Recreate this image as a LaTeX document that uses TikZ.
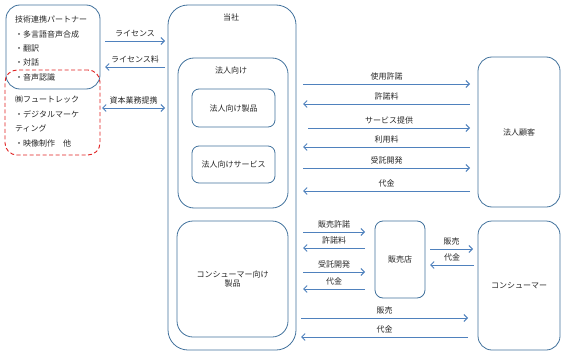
\documentclass[tikz,border=0pt]{standalone}
\usepackage{fontspec}
\setmainfont{Noto Sans CJK JP}
\usetikzlibrary{arrows.meta}
\definecolor{boxc}{HTML}{41719C}
\definecolor{arrc}{HTML}{4F81BD}
\definecolor{redc}{HTML}{E02020}
\definecolor{txt}{HTML}{262626}
\tikzset{
  box/.style={draw=boxc, line width=0.8pt, inner sep=0pt},
  redbox/.style={draw=redc, line width=0.9pt, dashed, dash pattern=on 4pt off 2.5pt, inner sep=0pt},
  lbl/.style={font=\fontsize{8}{9.5}\selectfont, text=txt, inner sep=0pt},
  ltxt/.style={lbl, anchor=west},
  arr/.style={draw=arrc, line width=0.9pt, -{Straight Barb[length=3.5pt,width=7pt]}},
  darr/.style={draw=arrc, line width=0.9pt, {Straight Barb[length=3.5pt,width=7pt]}-{Straight Barb[length=3.5pt,width=7pt]}},
  al/.style={lbl, above=3.5pt, midway}
}
\begin{document}
\begin{tikzpicture}[x=1pt,y=-1pt]
\useasboundingbox (0,0) rectangle (567,361);
% boxes
\node[box, rounded corners=14pt, minimum width=94pt, minimum height=84pt] (partner) at (53,47) {};
\node[redbox, rounded corners=12pt, minimum width=95pt, minimum height=85pt] (fute) at (52.5,112.5) {};
\node[box, rounded corners=20pt, minimum width=128pt, minimum height=345pt] (tosha) at (232,177.5) {};
\node[box, rounded corners=16pt, minimum width=110pt, minimum height=150pt] (hojin) at (233,133) {};
\node[box, rounded corners=7pt, minimum width=83pt, minimum height=38pt] (prod) at (233.5,108) {};
\node[box, rounded corners=7pt, minimum width=83pt, minimum height=37pt] (serv) at (233.5,164.5) {};
\node[box, rounded corners=16pt, minimum width=111pt, minimum height=116pt] (cprod) at (232.5,279) {};
\node[box, rounded corners=14pt, minimum width=82pt, minimum height=150pt] (kokyaku) at (519,132) {};
\node[box, rounded corners=8pt, minimum width=50pt, minimum height=77pt] (shop) at (400,259.5) {};
\node[box, rounded corners=14pt, minimum width=82pt, minimum height=129pt] (consumer) at (519,285.5) {};
% texts in partner box
\node[ltxt] (p1) at (15,19) {技術連携パートナー};
\node[ltxt] (p2) at (15,34) {・多言語音声合成};
\node[ltxt] (p3) at (15,48) {・翻訳};
\node[ltxt] (p4) at (15,62) {・対話};
\node[ltxt] (p5) at (15,77) {・音声認識};
\node[ltxt] (f1) at (15,99) {㈱フュートレック};
\node[ltxt] (f2) at (15,114) {・デジタルマーケ};
\node[ltxt] (f3) at (15,128) {ティング};
\node[ltxt] (f4) at (15,143) {・映像制作　他};
% box labels
\node[lbl] (tl) at (231,17) {当社};
\node[lbl] (hl) at (231,70) {法人向け};
\node[lbl] at (prod) {法人向け製品};
\node[lbl] at (serv) {法人向けサービス};
\node[lbl, align=center] at (cprod) {コンシューマー向け\\製品};
\node[lbl] at (kokyaku) {法人顧客};
\node[lbl] at (shop) {販売店};
\node[lbl] at (consumer) {コンシューマー};
% left arrows
\coordinate (a1s) at (105,41); \coordinate (a1e) at (165,41);
\coordinate (a2s) at (165,67); \coordinate (a2e) at (105,67);
\coordinate (a3s) at (102,108); \coordinate (a3e) at (165,108);
\draw[arr] (a1s) -- (a1e) node[al] {ライセンス};
\draw[arr] (a2s) -- (a2e) node[al] {ライセンス料};
\draw[darr] (a3s) -- (a3e) node[al] {資本業務提携};
% corporate arrows
\coordinate (b1s) at (303,84); \coordinate (b1e) at (470,84);
\coordinate (b2s) at (470,104); \coordinate (b2e) at (303,104);
\coordinate (b3s) at (308,128); \coordinate (b3e) at (470,128);
\coordinate (b4s) at (470,147); \coordinate (b4e) at (303,147);
\coordinate (b5s) at (303,168); \coordinate (b5e) at (470,168);
\coordinate (b6s) at (470,191); \coordinate (b6e) at (303,191);
\draw[arr] (b1s) -- (b1e) node[al] {使用許諾};
\draw[arr] (b2s) -- (b2e) node[al] {許諾料};
\draw[arr] (b3s) -- (b3e) node[al] {サービス提供};
\draw[arr] (b4s) -- (b4e) node[al] {利用料};
\draw[arr] (b5s) -- (b5e) node[al] {受託開発};
\draw[arr] (b6s) -- (b6e) node[al] {代金};
% shop arrows
\coordinate (c1s) at (303,232); \coordinate (c1e) at (365,232);
\coordinate (c2s) at (365,248); \coordinate (c2e) at (303,248);
\coordinate (c3s) at (303,272); \coordinate (c3e) at (365,272);
\coordinate (c4s) at (365,289); \coordinate (c4e) at (303,289);
\draw[arr] (c1s) -- (c1e) node[al] {販売許諾};
\draw[arr] (c2s) -- (c2e) node[al] {許諾料};
\draw[arr] (c3s) -- (c3e) node[al] {受託開発};
\draw[arr] (c4s) -- (c4e) node[al] {代金};
\coordinate (d1s) at (430,249); \coordinate (d1e) at (473,249);
\coordinate (d2s) at (474,265); \coordinate (d2e) at (430,265);
\draw[arr] (d1s) -- (d1e) node[al] {販売};
\draw[arr] (d2s) -- (d2e) node[al] {代金};
\coordinate (e1s) at (301,318); \coordinate (e1e) at (468,318);
\coordinate (e2s) at (468,337); \coordinate (e2e) at (301,337);
\draw[arr] (e1s) -- (e1e) node[al] {販売};
\draw[arr] (e2s) -- (e2e) node[al] {代金};
\end{tikzpicture}
\end{document}
